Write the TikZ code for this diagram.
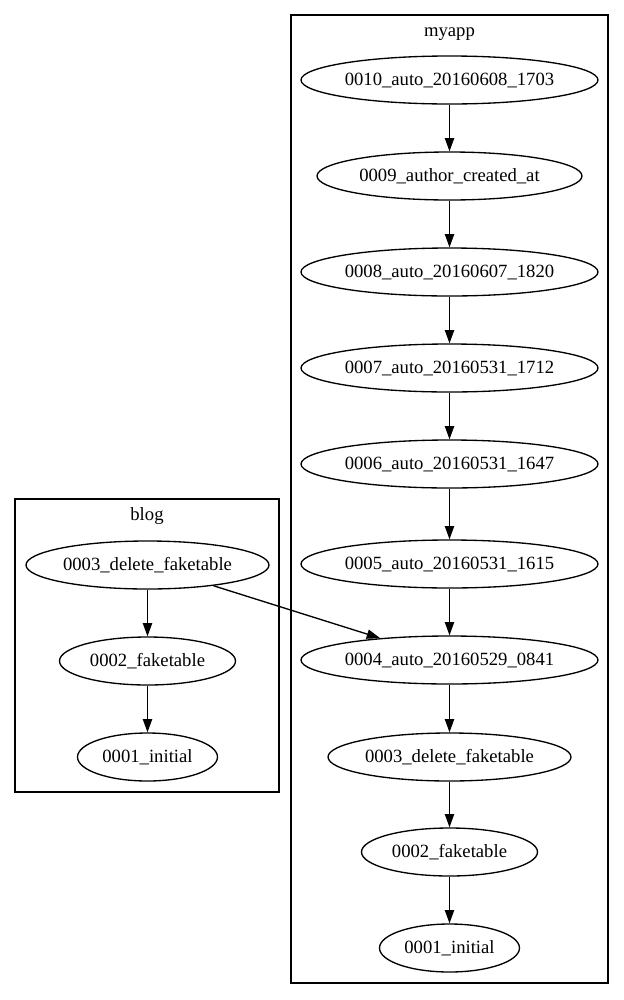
\documentclass[tikz,border=0pt]{standalone}
\usepackage{fontspec}
\setmainfont{Liberation Serif}
\usetikzlibrary{shapes.geometric,arrows.meta}
\begin{document}
\begin{tikzpicture}[x=0.75pt,y=-0.75pt,line width=1pt,>={Triangle[length=10pt,width=7pt]},
        mig/.style={draw,ellipse,minimum height=36pt,inner sep=0pt,font=\fontsize{14}{16}\selectfont},
        title/.style={anchor=base,inner sep=0pt,font=\fontsize{14}{16}\selectfont}]
            \useasboundingbox (0,0) rectangle (624,1000);
            \draw (291,15) rectangle (608,983);
            \draw (15,499) rectangle (279,792);
            \node[title] (myapp) at (449.5,36) {myapp};
            \node[title] (blog) at (147,520) {blog};
            \node[mig,minimum width=222.75pt] (m10) at (449.5,80) {0010\_auto\_20160608\_1703};
            \node[mig,minimum width=198.75pt] (m09) at (449.5,176) {0009\_author\_created\_at};
            \node[mig,minimum width=222.75pt] (m08) at (449.5,272) {0008\_auto\_20160607\_1820};
            \node[mig,minimum width=222.75pt] (m07) at (449.5,368) {0007\_auto\_20160531\_1712};
            \node[mig,minimum width=222.75pt] (m06) at (449.5,464) {0006\_auto\_20160531\_1647};
            \node[mig,minimum width=222.75pt] (m05) at (449.5,564) {0005\_auto\_20160531\_1615};
            \node[mig,minimum width=222.75pt] (m04) at (449.5,660) {0004\_auto\_20160529\_0841};
            \node[mig,minimum width=182.25pt] (m03) at (449.5,757) {0003\_delete\_faketable};
            \node[mig,minimum width=132pt] (m02) at (449.5,852) {0002\_faketable};
            \node[mig,minimum width=105pt] (m01) at (449.5,948) {0001\_initial};
            \node[mig,minimum width=182.25pt] (b03) at (147.5,565) {0003\_delete\_faketable};
            \node[mig,minimum width=132pt] (b02) at (147.5,661) {0002\_faketable};
            \node[mig,minimum width=105pt] (b01) at (147.5,757) {0001\_initial};
            \draw[->] (m10) -- (m09);
            \draw[->] (m09) -- (m08);
            \draw[->] (m08) -- (m07);
            \draw[->] (m07) -- (m06);
            \draw[->] (m06) -- (m05);
            \draw[->] (m05) -- (m04);
            \draw[->] (m04) -- (m03);
            \draw[->] (m03) -- (m02);
            \draw[->] (m02) -- (m01);
            \draw[->] (b03) -- (b02);
            \draw[->] (b02) -- (b01);
            \draw[->] (b03) -- (m04);
        \end{tikzpicture}
\end{document}
